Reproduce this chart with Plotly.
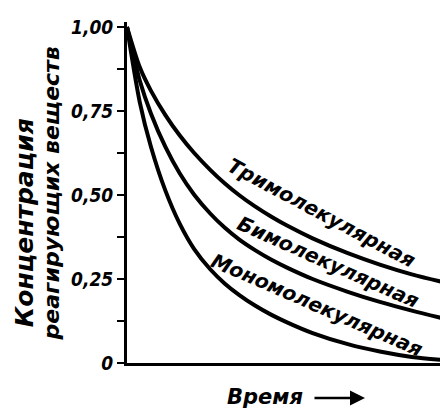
import plotly.graph_objects as go

# time (arbitrary units) and concentrations
time = [0, 0.4, 0.75, 1.2, 1.65, 2.1, 2.6, 3.05, 3.5, 4.0, 4.5, 5.0, 5.8, 6.9, 7.9, 8.9, 10.0]
tri = [1.0, 0.88, 0.81, 0.738, 0.677, 0.625, 0.575, 0.535, 0.500, 0.466, 0.436, 0.409, 0.371, 0.327, 0.293, 0.264, 0.238]
bi = [1.0, 0.84, 0.742, 0.643, 0.564, 0.501, 0.445, 0.403, 0.368, 0.336, 0.308, 0.284, 0.250, 0.212, 0.182, 0.156, 0.130]
mono = [1.0, 0.776, 0.643, 0.513, 0.414, 0.339, 0.279, 0.237, 0.203, 0.171, 0.144, 0.121, 0.089, 0.056, 0.034, 0.018, 0.008]

ytick_vals = [0, 0.125, 0.25, 0.375, 0.5, 0.625, 0.75, 0.875, 1.0]
ytick_text = ["0", "", "0,25", "", "0,50", "", "0,75", "", "1,00"]

labels = ["Тримолекулярная", "Бимолекулярная", "Мономолекулярная"]
label_pos = [(6.09, 0.446, 28), (6.28, 0.300, 24), (5.94, 0.173, 23.5)]

FONT = "DejaVu Sans"
FONT_C = "DejaVu Sans Condensed"
BOLDIT = dict(color="black", weight="bold", style="italic")

fig = go.Figure()
for ys in (tri, bi, mono):
    fig.add_trace(go.Scatter(x=time, y=ys, mode="lines",
                             line=dict(color="black", width=4, shape="spline", smoothing=0.8),
                             showlegend=False, hoverinfo="skip"))

for txt, (lx, ly, ang) in zip(labels, label_pos):
    fig.add_annotation(x=lx, y=ly, text=txt, showarrow=False, textangle=ang,
                       xanchor="center", yanchor="middle",
                       font=dict(size=20, family=FONT, **BOLDIT))

# y-axis title (two lines, rotated)
fig.add_annotation(xref="paper", yref="paper", x=0, y=0.41, xshift=-103,
                   text="Концентрация", textangle=-90, showarrow=False,
                   xanchor="center", yanchor="middle", font=dict(size=25, family=FONT, **BOLDIT))
fig.add_annotation(xref="paper", yref="paper", x=0, y=0.497, xshift=-75,
                   text="реагирующих веществ", textangle=-90, showarrow=False,
                   xanchor="center", yanchor="middle", font=dict(size=22, family=FONT, **BOLDIT))

# x-axis title with arrow
fig.add_annotation(xref="paper", yref="paper", x=0, y=0, xshift=138, yshift=-34,
                   text="Время", showarrow=False, xanchor="center", yanchor="middle",
                   font=dict(size=21, family=FONT, **BOLDIT))
fig.add_annotation(xref="paper", yref="paper", x=0, y=0, xshift=238, yshift=-35,
                   ax=-52, ay=0, text="", showarrow=True, arrowhead=2,
                   arrowsize=1.2, arrowwidth=2.5, arrowcolor="black",
                   xanchor="center", yanchor="middle")

fig.update_xaxes(range=[0, 10], showgrid=False, zeroline=False, showline=True,
                 linecolor="black", linewidth=3, showticklabels=False, ticks="")
fig.update_yaxes(range=[0, 1.015], showgrid=False, zeroline=False, showline=True,
                 linecolor="black", linewidth=3, tickvals=ytick_vals, ticktext=ytick_text,
                 ticks="outside", ticklen=7, tickwidth=2, tickcolor="black",
                 tickfont=dict(size=19, family=FONT_C, **BOLDIT))

# page body has an 8px margin, so the figure is shrunk by 8px and offsets reduced
fig.update_layout(width=440, height=403, margin=dict(l=119, r=1, t=14, b=48),
                  plot_bgcolor="white", paper_bgcolor="white")

fig.write_html("out.html")
